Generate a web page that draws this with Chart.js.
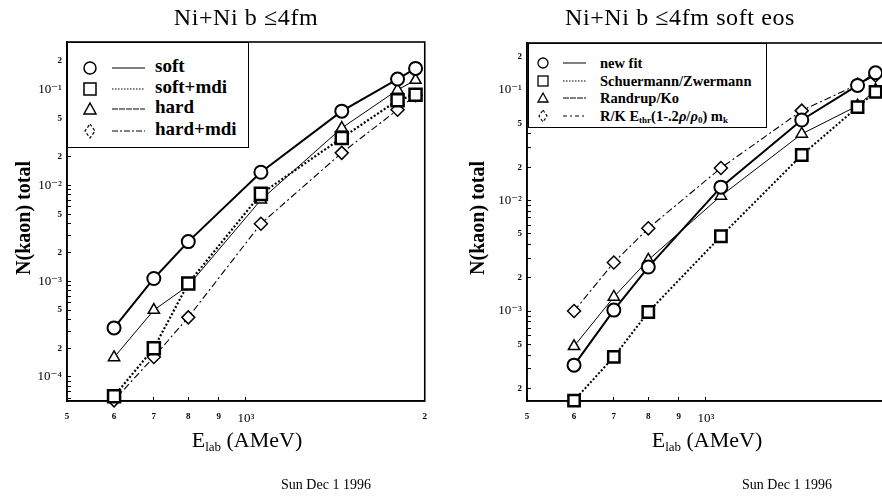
<!DOCTYPE html>
<html>
<head>
<meta charset="utf-8">
<script src="https://cdn.jsdelivr.net/npm/chart.js@4.4.1/dist/chart.umd.min.js"></script>
<style>
html, body { margin: 0; padding: 0; background: #fff; }
body { width: 882px; height: 496px; overflow: hidden; position: relative;
       font-family: "Liberation Serif", "DejaVu Serif", serif; color: #000; }
canvas { position: absolute; top: 0; }
#left { left: 0; }
#right { left: 441px; }
.t { position: absolute; white-space: nowrap; text-align: center; }
.title { font-size: 24px; letter-spacing: 0.6px; top: 4px; width: 400px; line-height: 26px; }
.xt { font-size: 22px; top: 426px; width: 300px; line-height: 28px; }
.xt sub { font-size: 13px; vertical-align: -4px; }
.yt { font-size: 20px; width: 200px; height: 24px; line-height: 24px; top: 206px; transform: rotate(-90deg); font-weight: 600; }
.date { font-size: 14px; top: 476px; width: 200px; line-height: 18px; }
.legend { position: absolute; border: 1.5px solid #000; background: #fff; box-sizing: border-box; }
.legend svg { position: absolute; left: 0; top: 0; }
.legend .row { position: absolute; white-space: nowrap; font-weight: bold; }
#leg1 .row { font-size: 19px; line-height: 20px; left: 87px; }
#leg2 .row { font-size: 14.5px; line-height: 16px; left: 71px; }
#leg2 sub { font-size: 9px; vertical-align: -2px; }
</style>
</head>
<body>
<canvas id="left" width="441" height="496"></canvas>
<canvas id="right" width="460" height="496"></canvas>

<div class="t title" style="left:46px">Ni+Ni b ≤4fm</div>
<div class="t title" style="left:480px">Ni+Ni b ≤4fm soft eos</div>

<div class="t yt" style="left:-77px">N(kaon) total</div>
<div class="t yt" style="left:377px">N(kaon) total</div>

<div class="t xt" style="left:97px">E<sub>lab</sub> (AMeV)</div>
<div class="t xt" style="left:557px">E<sub>lab</sub> (AMeV)</div>

<div class="t date" style="left:226px">Sun Dec 1 1996</div>
<div class="t date" style="left:687px">Sun Dec 1 1996</div>

<div class="legend" id="leg1" style="left:67px;top:42px;width:182px;height:106px">
  <svg width="182" height="106">
    <g fill="none" stroke="#000">
      <circle cx="22" cy="25" r="6" stroke-width="1.5"/>
      <line x1="44" y1="25" x2="77" y2="25" stroke-width="1"/>
      <rect x="16" y="40" width="12" height="12" stroke-width="1.5"/>
      <line x1="44" y1="46" x2="77" y2="46" stroke-width="1" stroke-dasharray="1.5,1.5"/>
      <path d="M22 60 L28 71 L16 71 Z" stroke-width="1.5"/>
      <line x1="44" y1="66" x2="77" y2="66" stroke-width="1" stroke-dasharray="6,1"/>
      <path d="M22 81 L27 88 L22 95 L17 88 Z" stroke-width="1.2" stroke-dasharray="3,2"/>
      <line x1="44" y1="88" x2="77" y2="88" stroke-width="1" stroke-dasharray="6,2,2,2"/>
    </g>
  </svg>
  <div class="row" style="top:13px">soft</div>
  <div class="row" style="top:34px">soft+mdi</div>
  <div class="row" style="top:54px">hard</div>
  <div class="row" style="top:76px">hard+mdi</div>
</div>

<div class="legend" id="leg2" style="left:528px;top:43px;width:239px;height:85px">
  <svg width="239" height="85">
    <g fill="none" stroke="#000">
      <circle cx="14" cy="19" r="5" stroke-width="1.3"/>
      <line x1="34" y1="19" x2="57" y2="19" stroke-width="1"/>
      <rect x="9" y="32" width="10" height="10" stroke-width="1.3"/>
      <line x1="34" y1="37" x2="57" y2="37" stroke-width="1" stroke-dasharray="1.5,1.5"/>
      <path d="M14 49 L19 58 L9 58 Z" stroke-width="1.3"/>
      <line x1="34" y1="54" x2="57" y2="54" stroke-width="1" stroke-dasharray="6,1"/>
      <path d="M14 66 L18 72 L14 78 L10 72 Z" stroke-width="1.1" stroke-dasharray="3,2"/>
      <line x1="34" y1="72" x2="57" y2="72" stroke-width="1" stroke-dasharray="4,3,2,3"/>
    </g>
  </svg>
  <div class="row" style="top:11px">new fit</div>
  <div class="row" style="top:29px">Schuermann/Zwermann</div>
  <div class="row" style="top:46px">Randrup/Ko</div>
  <div class="row" style="top:64px">R/K E<sub>thr</sub>(1-.2<i>ρ</i>/<i>ρ</i><sub>0</sub>) m<sub>k</sub></div>
</div>

<script>
// beam energies (AMeV)
const energies = [600, 700, 800, 1060, 1450, 1800, 1930];

// left panel: Ni+Ni b <= 4fm
const soft    = [3.26e-4, 1.07e-3, 2.6e-3, 1.38e-2, 0.060, 0.130, 0.168];
const softMdi = [6.3e-5, 2.0e-4, 9.5e-4, 8.2e-3, 0.0315, 0.078, 0.089];
const hard    = [1.6e-4, 5.0e-4, 9.0e-4, 7.1e-3, 0.040, 0.100, 0.127];
const hardMdi = [5.7e-5, 1.62e-4, 4.2e-4, 4.0e-3, 0.022, 0.062, 0.088];

// right panel: soft eos
const newFit     = [3.24e-4, 1.02e-3, 2.5e-3, 1.32e-2, 0.0535, 0.110, 0.143];
const schuermann = [1.55e-4, 3.85e-4, 9.8e-4, 4.75e-3, 0.0258, 0.070, 0.096];
const randrup    = [4.8e-4, 1.34e-3, 2.9e-3, 1.10e-2, 0.040, 0.072, 0.100];
const rkMedium   = [1.0e-3, 2.75e-3, 5.6e-3, 1.97e-2, 0.065, 0.112, 0.135];

// tick labels
const xTickLabels = { 500: '5', 600: '6', 700: '7', 800: '8', 900: '9', 1000: '10³', 2000: '2' };
const yMantissaLabels = [2, 5];
const yPowerLabels = { '-4': '10⁻⁴', '-3': '10⁻³', '-2': '10⁻²', '-1': '10⁻¹' };

function toPoints(ys) {
    return energies.map((x, i) => ({ x: x, y: ys[i] }));
}

function splitLog(v) {
    const e = Math.floor(Math.log10(v) + 1e-9);
    const m = v / Math.pow(10, e);
    return { e: e, m: m };
}

function yLabel(v) {
    const s = splitLog(v);
    if (Math.abs(s.m - 1) < 0.01) return yPowerLabels[String(s.e)] || '';
    for (const k of yMantissaLabels) {
        if (Math.abs(s.m - k) < 0.01) return String(k);
    }
    return '';
}

function isPow(v) {
    return Math.abs(splitLog(v).m - 1) < 0.01;
}

// every 1..9 x 10^n inside the axis range
function logTicks(scale) {
    const out = [];
    for (let e = -6; e <= 4; e++) {
        for (let m = 1; m <= 9; m++) {
            const v = parseFloat((m * Math.pow(10, e)).toPrecision(6));
            if (v >= scale.min && v <= scale.max) out.push({ value: v });
        }
    }
    scale.ticks = out;
}

const tickFont = (c) => isPow(c.tick.value)
    ? { family: '"Liberation Serif", "DejaVu Serif", serif', size: 13 }
    : { family: '"Liberation Serif", "DejaVu Serif", serif', size: 9, weight: 'bold' };

const framePlugin = {
    id: 'frame',
    beforeDatasetsDraw(chart) {
        const a = chart.chartArea;
        const ctx = chart.ctx;
        ctx.save();
        ctx.strokeStyle = '#000';
        ctx.lineWidth = 1.6;
        ctx.strokeRect(a.left, a.top, a.right - a.left, a.bottom - a.top);
        ctx.restore();
    }
};

function ds(data, style, dash, width, ptWidth, radius) {
    return {
        data: toPoints(data),
        borderColor: '#000',
        borderWidth: width,
        borderDash: dash,
        pointStyle: style,
        pointRadius: radius,
        pointBorderWidth: ptWidth,
        pointBorderColor: '#000',
        pointBackgroundColor: '#fff',
        tension: 0,
        clip: false
    };
}

function makeChart(id, datasets, yMin, yMax, yWidth, pad) {
    const ctx = document.getElementById(id).getContext('2d');
    return new Chart(ctx, {
        type: 'line',
        data: { datasets: datasets },
        options: {
            responsive: false,
            animation: false,
            events: [],
            layout: { padding: pad },
            plugins: { legend: { display: false }, tooltip: { enabled: false } },
            scales: {
                x: {
                    type: 'logarithmic',
                    min: 500, max: 2000,
                    border: { color: '#000', width: 1.6 },
                    grid: { drawOnChartArea: false, color: '#000', tickLength: -4 },
                    ticks: {
                        color: '#000', padding: 14, autoSkip: false, maxRotation: 0,
                        font: tickFont,
                        callback: (v) => xTickLabels[Math.round(v)] || ''
                    },
                    afterBuildTicks: logTicks,
                    afterFit: (s) => { s.height = 95; }
                },
                y: {
                    type: 'logarithmic',
                    min: yMin, max: yMax,
                    border: { color: '#000', width: 1.6 },
                    grid: { drawOnChartArea: false, color: '#000', tickLength: -4 },
                    ticks: {
                        color: '#000', padding: 9, autoSkip: false,
                        font: tickFont,
                        callback: (v) => yLabel(v)
                    },
                    afterBuildTicks: logTicks,
                    afterFit: (s) => { s.width = yWidth; }
                }
            }
        },
        plugins: [framePlugin]
    });
}

makeChart('left', [
    ds(soft, 'circle', [], 2, 2, 6.5),
    ds(softMdi, 'rect', [2, 2], 2.2, 2.5, 8.5),
    ds(hard, 'triangle', [], 1, 1.5, 6.5),
    ds(hardMdi, 'rectRot', [7, 3, 2, 3], 1.1, 1.5, 6.5)
], 5.61e-5, 0.317, 67, { left: 0, right: 13, top: 42, bottom: 0 });

makeChart('right', [
    ds(newFit, 'circle', [], 2, 2, 6.5),
    ds(schuermann, 'rect', [2, 2], 2, 2.5, 8),
    ds(randrup, 'triangle', [], 1, 1.5, 6.5),
    ds(rkMedium, 'rectRot', [7, 3, 2, 3], 1.1, 1.5, 6.5)
], 1.535e-4, 0.266, 86, { left: 0, right: 15, top: 43, bottom: 0 });
</script>
</body>
</html>
